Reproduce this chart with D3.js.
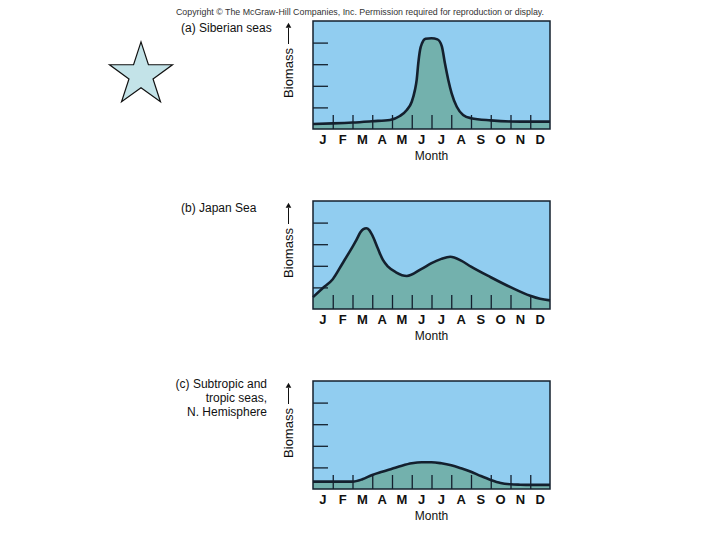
<!DOCTYPE html>
<html lang="en">

<head>
    <meta charset="UTF-8">
    <title>Seasonal plankton biomass</title>
    <script src="https://d3js.org/d3.v7.min.js"></script>
    <style>
        body { margin: 0; background: #fff; }
        text { font-family: "Liberation Sans", Arial, sans-serif; }
    </style>
</head>

<body>
    <svg id="chart" width="720" height="540"></svg>

    <script>
        // --- data (month position 0..12, biomass in tick units 0..5) ---
        const months = ["J", "F", "M", "A", "M", "J", "J", "A", "S", "O", "N", "D"];
        const yTicks = [1, 2, 3, 4];
        const monthTicks = [1, 2, 3, 4, 5, 6, 7, 8, 9, 10, 11];

        const siberianX = [0, 1, 2, 3, 3.9, 4.4, 4.75, 5, 5.16, 5.25, 5.33, 5.42, 5.52, 5.7, 6, 6.3, 6.52, 6.68, 6.85, 7.02, 7.28, 7.6, 8, 9, 10, 11, 12];
        const siberianY = [0.23, 0.26, 0.3, 0.36, 0.42, 0.6, 0.88, 1.26, 1.8, 2.27, 3.04, 3.66, 3.97, 4.18, 4.2, 4.15, 3.84, 3.04, 2.27, 1.65, 1.03, 0.65, 0.5, 0.4, 0.35, 0.34, 0.34];

        const japanX = [0, 0.5, 1, 1.5, 2, 2.2, 2.4, 2.55, 2.7, 2.85, 3.0, 3.28, 3.54, 3.8, 4.2, 4.75, 5.5, 6, 6.5, 6.95, 7.5, 8, 9, 10, 11, 11.5, 12];
        const japanY = [0.55, 0.97, 1.38, 2.12, 2.88, 3.2, 3.55, 3.7, 3.74, 3.65, 3.42, 2.81, 2.27, 1.96, 1.7, 1.53, 1.86, 2.12, 2.32, 2.42, 2.24, 1.96, 1.47, 1.01, 0.61, 0.47, 0.4];

        const tropicX = [0, 1, 2, 2.5, 3, 3.5, 4, 4.5, 5, 5.5, 6, 6.5, 7, 7.5, 8, 8.5, 9, 9.5, 10, 10.5, 11, 12];
        const tropicY = [0.34, 0.34, 0.34, 0.45, 0.65, 0.8, 0.94, 1.08, 1.19, 1.24, 1.24, 1.19, 1.1, 0.96, 0.8, 0.6, 0.42, 0.28, 0.22, 0.2, 0.19, 0.19];

        const siberianTitle = ["(a) Siberian seas"];
        const japanTitle = ["(b) Japan Sea"];
        const tropicTitle = ["(c) Subtropic and", "tropic seas,", "N. Hemisphere"];

        const copyright = "Copyright \u00A9 The McGraw-Hill Companies, Inc. Permission required for reproduction or display.";

        // --- layout ---
        const svg = d3.select("#chart");
        const boxLeft = 313, boxRight = 550, boxH = 108;
        const sky = "#91cdf0", water = "#73b1ad", ink = "#14202e";

        const x = d3.scaleLinear().domain([0, 12]).range([boxLeft, boxRight]);
        const xBand = d3.scaleBand().domain(d3.range(12)).range([boxLeft, boxRight]);

        const panels = [
            { top: 21, xs: siberianX, ys: siberianY, title: siberianTitle, align: "left" },
            { top: 201, xs: japanX, ys: japanY, title: japanTitle, align: "left" },
            { top: 381, xs: tropicX, ys: tropicY, title: tropicTitle, align: "right" }
        ];

        svg.append("text")
            .attr("x", 176)
            .attr("y", 15)
            .attr("textLength", 368)
            .attr("lengthAdjust", "spacingAndGlyphs")
            .attr("font-size", 9)
            .attr("fill", "#333")
            .text(copyright);

        // star in the corner
        svg.append("path")
            .attr("transform", "translate(141,75)")
            .attr("d", d3.symbol(d3.symbolStar, 1230)())
            .attr("fill", "#c3e3e8")
            .attr("stroke", "#111")
            .attr("stroke-width", 1.2);

        panels.forEach(p => {
            const y = d3.scaleLinear().domain([0, 5]).range([p.top + boxH, p.top]);
            const pts = p.xs.map((v, i) => ({ m: v, b: p.ys[i] }));
            const g = svg.append("g");

            g.append("rect")
                .attr("x", boxLeft).attr("y", p.top)
                .attr("width", boxRight - boxLeft).attr("height", boxH)
                .attr("fill", sky);

            const area = d3.area()
                .curve(d3.curveMonotoneX)
                .x(d => x(d.m))
                .y0(y(0))
                .y1(d => y(d.b));
            const line = d3.line()
                .curve(d3.curveMonotoneX)
                .x(d => x(d.m))
                .y(d => y(d.b));

            g.append("path").datum(pts).attr("fill", water).attr("d", area);

            // left ticks pointing into the box
            const yAxis = g.append("g")
                .attr("transform", `translate(${boxLeft},0)`)
                .call(d3.axisRight(y).tickValues(yTicks).tickSize(15).tickFormat(""));
            // month boundary ticks rising from the bottom
            const mAxis = g.append("g")
                .attr("transform", `translate(0,${p.top + boxH})`)
                .call(d3.axisTop(x).tickValues(monthTicks).tickSize(14).tickFormat(""));
            [yAxis, mAxis].forEach(a => {
                a.select(".domain").remove();
                a.selectAll("line").attr("stroke", ink).attr("stroke-width", 1.3);
            });

            g.append("path").datum(pts)
                .attr("fill", "none")
                .attr("stroke", ink)
                .attr("stroke-width", 2.6)
                .attr("stroke-linejoin", "round")
                .attr("d", line);

            g.append("rect")
                .attr("x", boxLeft).attr("y", p.top)
                .attr("width", boxRight - boxLeft).attr("height", boxH)
                .attr("fill", "none")
                .attr("stroke", ink)
                .attr("stroke-width", 1.5);

            // month letters
            const lab = g.append("g")
                .attr("transform", `translate(0,${p.top + boxH + 3})`)
                .call(d3.axisBottom(xBand).tickSize(0).tickFormat(i => months[i]));
            lab.select(".domain").remove();
            lab.selectAll("text")
                .attr("font-size", 13)
                .attr("font-weight", "bold")
                .attr("font-family", "Liberation Sans, Arial, sans-serif")
                .attr("fill", "#111");

            g.append("text")
                .attr("x", x(6))
                .attr("y", p.top + boxH + 31)
                .attr("text-anchor", "middle")
                .attr("font-size", 12)
                .attr("fill", "#111")
                .text("Month");

            // Biomass label with an up arrow
            const cy = p.top + 52;
            g.append("text")
                .attr("transform", `translate(293,${cy}) rotate(-90)`)
                .attr("text-anchor", "middle")
                .attr("font-size", 13)
                .attr("fill", "#111")
                .text("Biomass");
            g.append("line")
                .attr("x1", 288.5).attr("x2", 288.5)
                .attr("y1", cy - 29).attr("y2", p.top + 7)
                .attr("stroke", "#111").attr("stroke-width", 1);
            g.append("path")
                .attr("d", d3.symbol(d3.symbolTriangle, 14)())
                .attr("transform", `translate(288.5,${p.top + 5})`)
                .attr("fill", "#111");

            // panel title
            const right = p.align === "right";
            const t = g.append("text")
                .attr("font-size", 12)
                .attr("fill", "#111")
                .attr("text-anchor", right ? "end" : "start");
            p.title.forEach((s, i) => {
                t.append("tspan")
                    .attr("x", right ? 267 : 181)
                    .attr("y", p.top + (right ? 7 : 11) + i * 14)
                    .text(s);
            });
        });
    </script>

</body>

</html>
